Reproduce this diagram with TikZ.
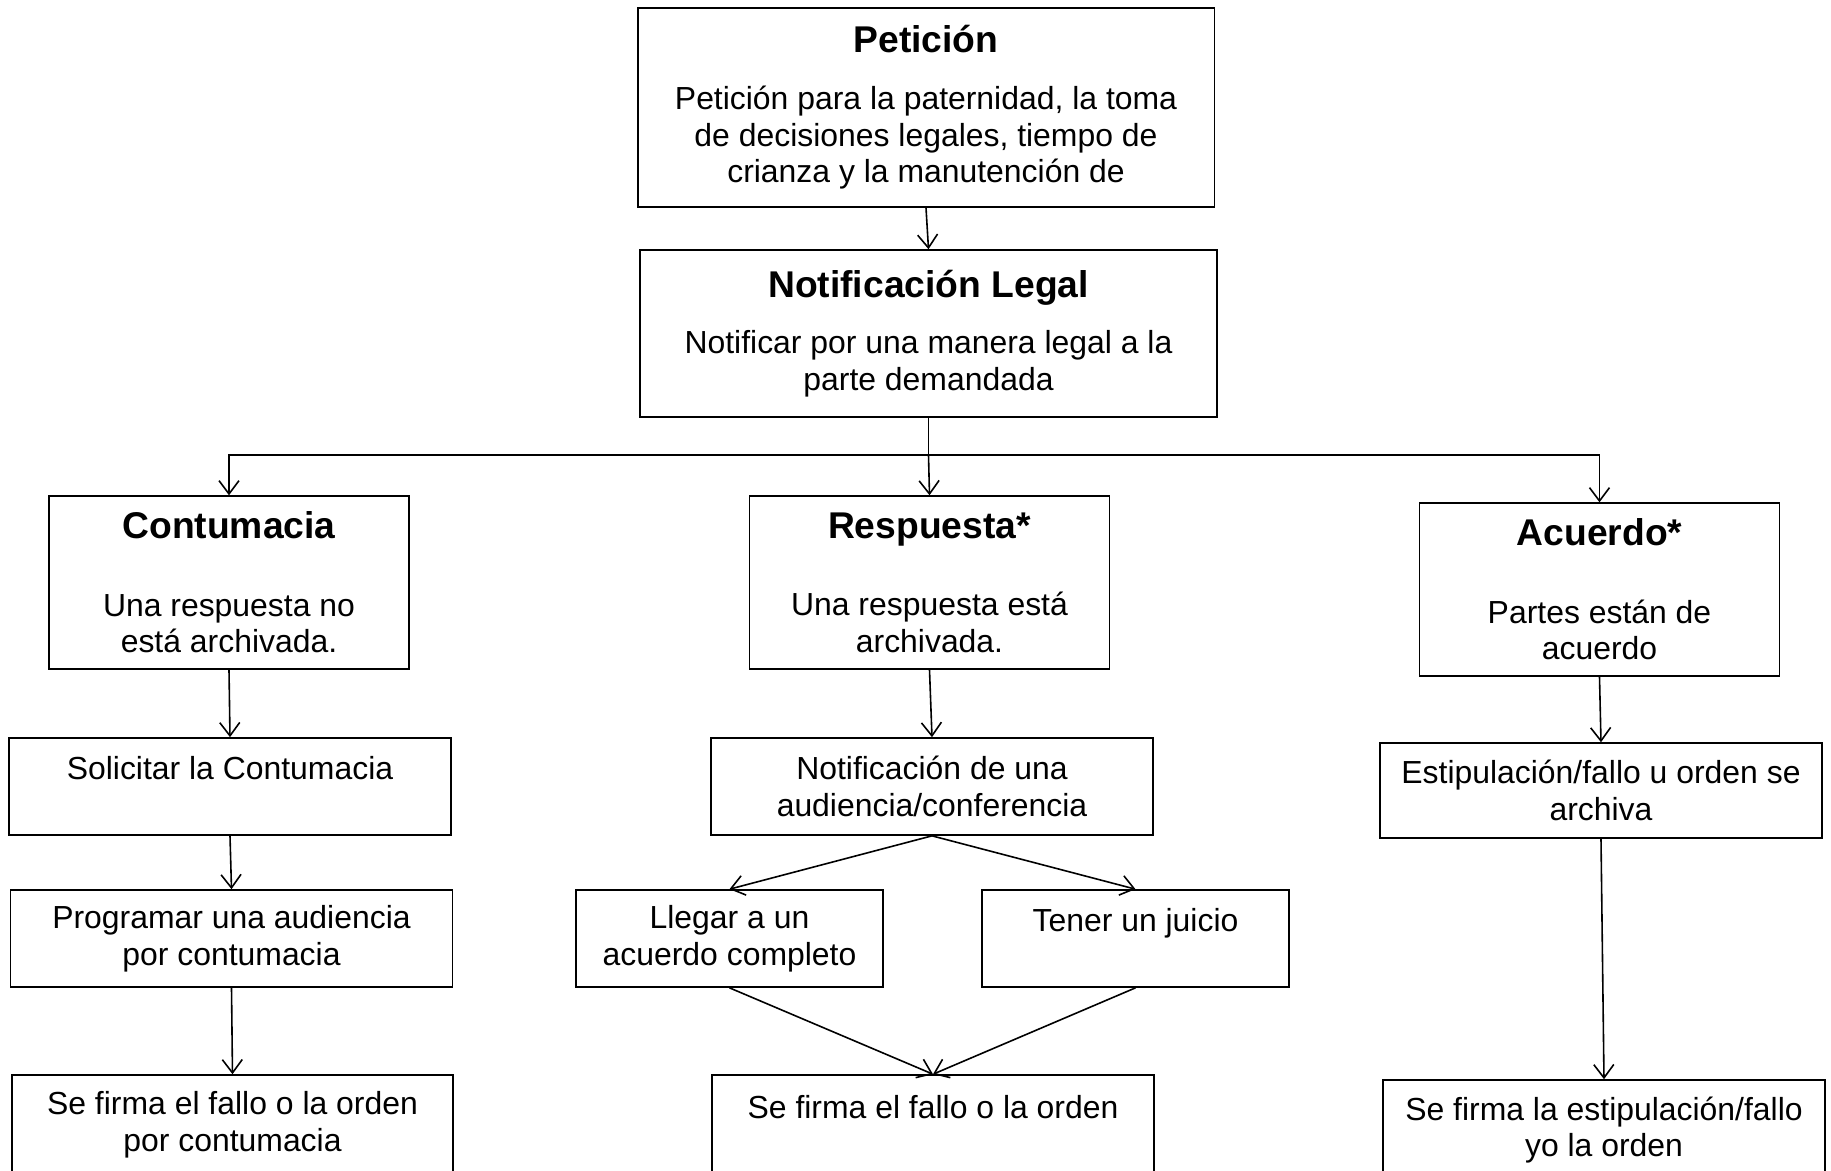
\documentclass[tikz,border=0pt]{standalone}
\usepackage{fontspec}
\setmainfont{Liberation Sans}
\usetikzlibrary{arrows.meta}

\newcommand\bodyfont{\fontsize{12}{13.8}\selectfont}
\newcommand\ttl{\fontsize{14}{16}\selectfont\bfseries}

\begin{document}
\begin{tikzpicture}[
  x=0.376pt, y=-0.376pt,
  every node/.style={draw, line width=0.6pt, align=center, inner sep=0pt, font=\bodyfont},
  topbox/.style={minimum width=216.8pt},
  headbox/.style={minimum width=135.4pt, minimum height=65pt},
  stepbox/.style={minimum width=166.2pt, minimum height=36.5pt},
  smallbox/.style={minimum width=115.4pt, minimum height=36.5pt},
  endbox/.style={minimum width=166pt, minimum height=37.6pt},
  line width=0.6pt,
  >={Straight Barb[length=5pt,width=7.5pt]}
]
\useasboundingbox (0,0) rectangle (1831,1171);

% top of the chart
\node[topbox, minimum height=74.8pt] (pet) at (926,107.5)
  {{\ttl Petición}\\[7.4pt]Petición para la paternidad, la toma\\de decisiones legales, tiempo de\\crianza y la manutención de};
\node[topbox, minimum height=62.8pt] (notif) at (928.5,333.5)
  {{\ttl Notificación Legal}\\[7.4pt]Notificar por una manera legal a la\\parte demandada};

% three branches
\node[headbox] (cont) at (229,582.5)
  {{\ttl Contumacia}\\[15.2pt]Una respuesta no\\está archivada.};
\node[headbox] (resp) at (929.5,582.5)
  {{\ttl Respuesta*}\\[15.2pt]Una respuesta está\\archivada.};
\node[headbox] (acu) at (1599.5,589.5)
  {{\ttl Acuerdo*}\\[15.2pt]Partes están de\\acuerdo};

% Contumacia column
\node[stepbox] (sol) at (230,786.5) {Solicitar la Contumacia\\\mbox{}};
\node[stepbox] (prog) at (231.5,938.5) {Programar una audiencia\\por contumacia};
\node[endbox] (firmaC) at (232.5,1125) {Se firma el fallo o la orden\\por contumacia};

% Respuesta column
\node[stepbox] (aud) at (932,786.5) {Notificación de una\\audiencia/conferencia};
\node[smallbox] (lleg) at (729.5,938.5) {Llegar a un\\acuerdo completo};
\node[smallbox] (ten) at (1135.5,938.5) {Tener un juicio\\\mbox{}};
\node[endbox] (firmaR) at (933,1125) {Se firma el fallo o la orden\\\mbox{}};

% Acuerdo column
\node[stepbox, minimum height=35.7pt] (est) at (1601,790.5) {Estipulación/fallo u orden se\\archiva};
\node[endbox] (firmaA) at (1604,1130) {Se firma la estipulación/fallo\\yo la orden};

\draw[->] (pet.south) -- (notif.north);
\coordinate (fork) at (928.5,455);
\draw (notif.south) -- (fork);
\draw[->] (fork) -| (cont.north);
\draw[->] (fork) -| (acu.north);
\draw[->] (fork) -- (resp.north);

\draw[->] (cont.south) -- (sol.north);
\draw[->] (sol.south) -- (prog.north);
\draw[->] (prog.south) -- (firmaC.north);

\draw[->] (resp.south) -- (aud.north);
\draw[->] (aud.south) -- (lleg.north);
\draw[->] (aud.south) -- (ten.north);
\draw[->] (lleg.south) -- (firmaR.north);
\draw[->] (ten.south) -- (firmaR.north);

\draw[->] (acu.south) -- (est.north);
\draw[->] (est.south) -- (firmaA.north);
\end{tikzpicture}
\end{document}
